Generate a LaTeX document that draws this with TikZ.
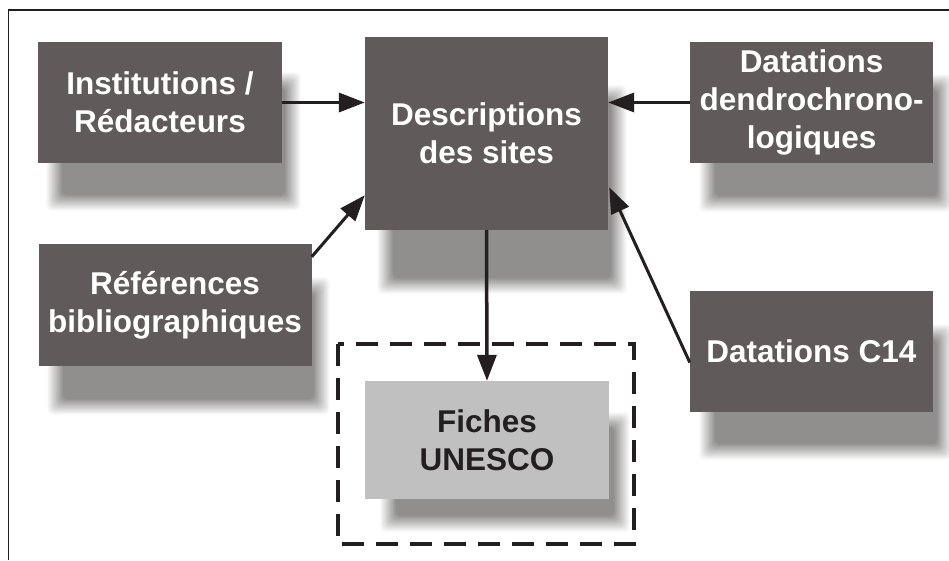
\documentclass[tikz,border=0pt]{standalone}
\usepackage{fontspec}
\setmainfont{Liberation Sans}
\usetikzlibrary{arrows.meta,calc}

\definecolor{boxcol}{RGB}{96,91,90}
\definecolor{lightbox}{RGB}{192,192,192}
\definecolor{shadowcol}{RGB}{141,139,138}
\definecolor{inkcol}{RGB}{35,31,32}

% soft drop shadow: nested rectangles fading from white to the shadow grey
\newcommand{\softshadow}[4]{%
  \foreach \k in {0,...,15}{%
    \pgfmathsetmacro{\dd}{-8+\k*16/15}%
    \pgfmathsetmacro{\pp}{(\k+0.5)*100/16}%
    \fill[shadowcol!\pp!white, rounded corners=5pt]
      ({#1+\dd},{#2+\dd}) rectangle ({#3-\dd},{#4-\dd});
  }%
}

\tikzset{
  darkbox/.style={fill=boxcol, text=white, align=center, inner sep=0pt,
    font=\fontsize{31.5}{38}\selectfont\bfseries},
  lightboxstyle/.style={darkbox, fill=lightbox, text=inkcol},
  flow/.style={draw=inkcol, line width=3.5pt,
    -{Triangle[length=26pt,width=19pt]}},
  dashedframe/.style={draw=inkcol, line width=4.5pt, dash pattern=on 22pt off 12pt}
}

\begin{document}
\begin{tikzpicture}[x=1pt,y=-1pt]
\useasboundingbox (0,0) rectangle (949,560);
\fill[white] (0,0) rectangle (949,560);

% outer frame (left and top edges)
\draw[inkcol, line width=1.8pt] (8.5,560) -- (8.5,10) -- (949,10);

% shadows
\softshadow{54}{80}{293}{203}
\softshadow{385}{93}{619}{286}
\softshadow{707}{82}{945}{204}
\softshadow{55}{285}{322}{407}
\softshadow{707}{332}{945}{452}
\softshadow{388}{420}{622}{524}

% dashed group around the output
\draw[dashedframe] (338,344) rectangle (634,544);

% boxes
\node[darkbox, minimum width=244pt, minimum height=121pt] (inst) at (160,102.5)
  {Institutions /\\Rédacteurs};
\node[darkbox, minimum width=243pt, minimum height=193pt] (desc) at (486.5,133.5)
  {Descriptions\\des sites};
\node[darkbox, minimum width=243pt, minimum height=121pt] (dendro) at (811.5,102.5)
  {Datations\\dendrochrono-\\logiques};
\node[darkbox, minimum width=273pt, minimum height=122pt] (ref) at (175,305)
  {Références\\bibliographiques};
\node[darkbox, minimum width=243pt, minimum height=121pt] (c14) at (811.5,351.5)
  {Datations C14};
\node[lightboxstyle, minimum width=244pt, minimum height=118pt] (fiches) at (487,440)
  {Fiches\\UNESCO};

% connectors
\draw[flow] (inst.east) -- (inst.east -| desc.west);
\draw[flow] (dendro.west) -- (dendro.west -| desc.east);
\draw[flow, line width=3pt] ($(ref.north east)+(0,13)$) -- ($(desc.south west)+(0,-35)$);
\draw[flow, line width=3pt] ($(c14.west)+(0,11)$) -- ($(desc.south east)+(1,-43)$);
\draw[flow] (desc.south) -- (fiches.north);
\end{tikzpicture}
\end{document}
